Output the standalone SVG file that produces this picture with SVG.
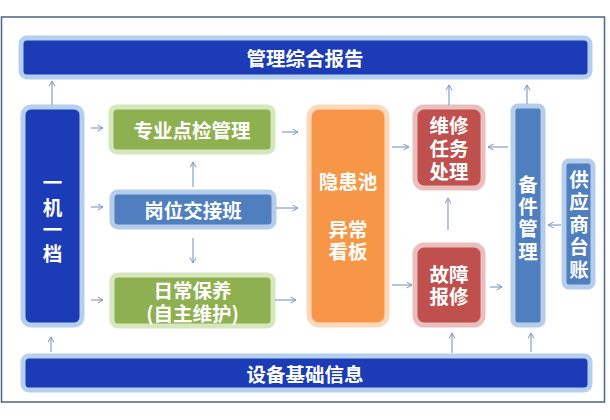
<svg xmlns="http://www.w3.org/2000/svg" width="610" height="420" viewBox="0 0 610 420">
<defs>
<marker id="ah" markerWidth="8" markerHeight="8" refX="6" refY="3.5" orient="auto" markerUnits="userSpaceOnUse">
<path d="M0.5,0.5 L6,3.5 L0.5,6.5" fill="none" stroke="#7c98bf" stroke-width="1"/>
</marker>
</defs>
<style>
text{font-family:"Noto Sans CJK SC","Noto Sans",sans-serif;font-weight:700;fill:#ffffff;text-anchor:middle;dominant-baseline:central;font-size:19.5px}
.navy{fill:#1c3bb6;stroke:#b4d0ee;stroke-width:5}
.green{fill:#8fb051;stroke:#d6e6bd;stroke-width:5}
.blue{fill:#4f7fbe;stroke:#b5cdea;stroke-width:5}
.orange{fill:#f79646;stroke:#fcd9bc;stroke-width:5}
.red{fill:#c0504d;stroke:#eabebd;stroke-width:5}
.conn line{stroke:#7c98bf;stroke-width:1.1;marker-end:url(#ah)}
</style>
<rect x="0" y="0" width="610" height="420" fill="#ffffff"/>
<rect x="1.5" y="17" width="603" height="385" fill="#ffffff" stroke="#4a6585" stroke-width="1.5"/>

<g id="report"><rect class="navy" x="21" y="38" width="569" height="39" rx="6"/><text x="305" y="57.5">管理综合报告</text></g>
<g id="basic"><rect class="navy" x="23" y="356" width="567" height="34" rx="6"/><text x="305" y="373">设备基础信息</text></g>
<g id="archive"><rect class="navy" x="23" y="107" width="59" height="218" rx="8"/>
<text x="52.5" y="181"><tspan x="52.5" y="181">一</tspan><tspan x="52.5" y="206">机</tspan><tspan x="52.5" y="228">一</tspan><tspan x="52.5" y="252">档</tspan></text></g>
<g id="inspect"><rect class="green" x="111" y="107" width="162" height="45" rx="6"/><text x="192" y="129.5">专业点检管理</text></g>
<g id="shift"><rect class="blue" x="112" y="192" width="162" height="35" rx="6"/><text x="193" y="209.5">岗位交接班</text></g>
<g id="maint"><rect class="green" x="112" y="275" width="161" height="51" rx="6"/><text x="192.5" y="289"><tspan x="192.5" y="289">日常保养</tspan><tspan x="192.5" y="312">(自主维护)</tspan></text></g>
<g id="pool"><rect class="orange" x="309" y="107" width="78" height="218" rx="10"/><text x="348" y="180"><tspan x="348" y="180">隐患池</tspan><tspan x="348" y="228">异常</tspan><tspan x="348" y="250">看板</tspan></text></g>
<g id="task"><rect class="red" x="415" y="107" width="68" height="81" rx="9"/><text x="449" y="124"><tspan x="449" y="124">维修</tspan><tspan x="449" y="147">任务</tspan><tspan x="449" y="170">处理</tspan></text></g>
<g id="fault"><rect class="red" x="415" y="245" width="68" height="80" rx="9"/><text x="449" y="273"><tspan x="449" y="273">故障</tspan><tspan x="449" y="295">报修</tspan></text></g>
<g id="spare"><rect class="blue" x="513" y="106" width="30" height="219" rx="5"/><text x="528" y="183"><tspan x="528" y="183">备</tspan><tspan x="528" y="205">件</tspan><tspan x="528" y="227">管</tspan><tspan x="528" y="250">理</tspan></text></g>
<g id="supplier"><rect class="blue" x="564" y="161" width="29" height="126" rx="5"/><text x="579" y="178"><tspan x="579" y="178">供</tspan><tspan x="579" y="200">应</tspan><tspan x="579" y="223">商</tspan><tspan x="579" y="245">台</tspan><tspan x="579" y="268">账</tspan></text></g>

<g class="conn" id="connectors">
<line x1="52" y1="105" x2="52" y2="81"/>
<line x1="449" y1="105" x2="449" y2="85"/>
<line x1="527" y1="104" x2="527" y2="85"/>
<line x1="51" y1="352" x2="51" y2="337"/>
<line x1="452" y1="353" x2="452" y2="333"/>
<line x1="531" y1="352" x2="531" y2="333"/>
<line x1="91" y1="128" x2="103" y2="128"/>
<line x1="91" y1="207" x2="103" y2="207"/>
<line x1="91" y1="300" x2="103" y2="300"/>
<line x1="282" y1="132" x2="298" y2="132"/>
<line x1="276" y1="208" x2="298" y2="208"/>
<line x1="275" y1="300" x2="296" y2="300"/>
<line x1="193" y1="187" x2="193" y2="162"/>
<line x1="193" y1="238" x2="193" y2="263"/>
<line x1="392" y1="147" x2="409" y2="147"/>
<line x1="508" y1="147" x2="488" y2="147"/>
<line x1="448" y1="230" x2="448" y2="198"/>
<line x1="392" y1="285" x2="412" y2="285"/>
<line x1="490" y1="287" x2="502" y2="287"/>
<line x1="561" y1="225" x2="548" y2="225"/>
</g>
</svg>
